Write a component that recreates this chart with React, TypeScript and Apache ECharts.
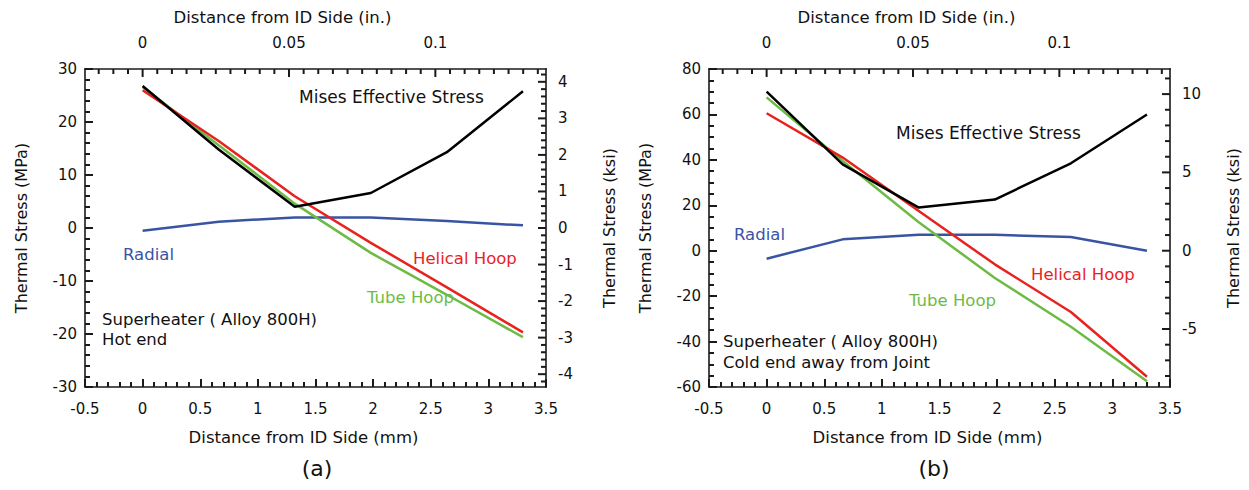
import React, { useEffect, useRef } from "react";
import * as echarts from "echarts";

// ---------- data ----------
const distMm = [0, 0.66, 1.32, 1.98, 2.64, 3.3];

const hotMises = [26.8, 14.8, 4.0, 6.6, 14.3, 25.8];
const hotHelical = [26.0, 16.4, 6.0, -2.8, -11.2, -19.7];
const hotTube = [26.6, 15.6, 4.6, -4.7, -12.6, -20.6];
const hotRadial = [-0.5, 1.2, 2.0, 2.0, 1.3, 0.5];

const coldMises = [70.0, 38.0, 19.0, 22.5, 38.5, 60.0];
const coldHelical = [60.5, 41.0, 17.5, -6.0, -27.0, -55.5];
const coldTube = [67.5, 39.5, 12.5, -12.0, -33.5, -57.5];
const coldRadial = [-3.5, 5.0, 7.0, 7.0, 6.0, 0.0];

const inchMajorTicks = [0, 0.05, 0.1];
const hotKsiTicks = [-4, -3, -2, -1, 0, 1, 2, 3, 4];
const coldKsiTicks = [-5, 0, 5, 10];

const MM_PER_IN = 25.4;
const MPA_PER_KSI = 6.895;

const FONT = "'DejaVu Sans', 'Liberation Sans', Arial, sans-serif";
const RED = "#e8231f";
const GREEN = "#6dbb45";
const BLUE = "#3a54a4";
const AXIS = "#1a1a1a";

function range(a: number, b: number, step: number): number[] {
  const out: number[] = [];
  const n = Math.round((b - a) / step);
  for (let i = 0; i <= n; i++) out.push(+(a + i * step).toFixed(6));
  return out;
}

const pts = (ys: number[]) => distMm.map((x, i) => [x, ys[i]]);

export default function App() {
  const ref = useRef<HTMLDivElement>(null);

  useEffect(() => {
    if (!ref.current) return;
    const chart = echarts.init(ref.current, null, { renderer: "svg" });

    const axisLine = () => ({ show: true, onZero: false, lineStyle: { color: AXIS, width: 1.6 } });
    const tickStyle = () => ({ color: AXIS, width: 2 });

    const bottomAxis = (grid: number) => ({
      type: "value",
      gridIndex: grid,
      position: "bottom",
      min: -0.5,
      max: 3.5,
      interval: 0.5,
      axisLine: axisLine(),
      axisTick: { show: true, inside: true, length: 8, lineStyle: tickStyle() },
      minorTick: { show: true, splitNumber: 5, length: 5, lineStyle: tickStyle() },
      axisLabel: { color: "#111", fontSize: 15, fontFamily: FONT, margin: 14, formatter: (v: number) => String(+v.toFixed(2)) },
      splitLine: { show: false },
    });

    const leftAxis = (grid: number, min: number, max: number, interval: number, minorSplit: number) => ({
      type: "value",
      gridIndex: grid,
      position: "left",
      min,
      max,
      interval,
      axisLine: axisLine(),
      axisTick: { show: true, inside: true, length: 8, lineStyle: tickStyle() },
      minorTick: { show: true, splitNumber: minorSplit, length: 5, lineStyle: tickStyle() },
      axisLabel: { color: "#111", fontSize: 15, fontFamily: FONT, margin: 8 },
      splitLine: { show: false },
      name: "Thermal Stress (MPa)",
      nameLocation: "middle",
      nameGap: 56,
      nameTextStyle: { color: "#111", fontSize: 16, fontFamily: FONT },
    });

    const line = (ys: number[], color: string, idx: number) => ({
      type: "line",
      xAxisIndex: idx,
      yAxisIndex: idx,
      data: pts(ys),
      symbol: "none",
      lineStyle: { color, width: 2.5 },
    });

    chart.setOption({
      animation: false,
      backgroundColor: "#fff",
      grid: [
        { left: 85, width: 461, top: 69, bottom: 103 },
        { left: 709, width: 461, top: 69, bottom: 103 },
      ],
      xAxis: [bottomAxis(0), bottomAxis(1)],
      yAxis: [leftAxis(0, -30, 30, 10, 5), leftAxis(1, -60, 80, 20, 4)],
      series: [
        line(hotRadial, BLUE, 0),
        line(hotTube, GREEN, 0),
        line(hotHelical, RED, 0),
        line(hotMises, "#000", 0),
        line(coldRadial, BLUE, 1),
        line(coldTube, GREEN, 1),
        line(coldHelical, RED, 1),
        line(coldMises, "#000", 1),
      ],
    } as any);

    // ---- secondary axes (inches on top, ksi on right), placed through the chart's own scales ----
    const toX = (g: number, v: number) => chart.convertToPixel({ xAxisIndex: g } as any, v) as number;
    const toY = (g: number, v: number) => chart.convertToPixel({ yAxisIndex: g } as any, v) as number;

    const txt = (x: number, y: number, text: string, color = "#111", size = 16.5, align = "left", rotation = 0) => ({
      type: "text",
      x,
      y,
      rotation,
      style: { text, fill: color, fontSize: size, fontFamily: FONT, align, verticalAlign: "middle" },
    });
    const rectTick = (x: number, y: number, w: number, h: number) => ({
      type: "rect",
      shape: { x, y, width: w, height: h },
      style: { fill: AXIS },
      z: 10,
    });

    const secondary = (g: number, yMin: number, yMax: number, ksiMajor: number[], ksiMinor: number) => {
      const els: any[] = [];
      const xL = toX(g, -0.5);
      const xR = toX(g, 3.5);
      const yT = toY(g, yMax);
      const yB = toY(g, yMin);
      els.push(rectTick(xL - 0.8, yT - 0.8, xR - xL + 1.6, 1.6));
      els.push(rectTick(xR - 0.8, yT - 0.8, 1.6, yB - yT + 1.6));
      // top inch ticks
      range(-0.015, 0.135, 0.005).forEach((inch) => {
        const mm = inch * MM_PER_IN;
        if (mm < -0.5 || mm > 3.5) return;
        const major = inchMajorTicks.some((m) => Math.abs(m - inch) < 1e-6);
        const x = toX(g, mm);
        els.push(rectTick(x - 1, yT, 2, major ? 8 : 5));
      });
      inchMajorTicks.forEach((inch) => {
        els.push(txt(toX(g, inch * MM_PER_IN), yT - 26, String(inch), "#111", 15, "center"));
      });
      // right ksi ticks
      const lo = Math.ceil(yMin / MPA_PER_KSI / ksiMinor - 1e-9) * ksiMinor;
      const hi = Math.floor(yMax / MPA_PER_KSI / ksiMinor + 1e-9) * ksiMinor;
      range(lo, hi, ksiMinor).forEach((k) => {
        const major = ksiMajor.some((m) => Math.abs(m - k) < 1e-6);
        const y = toY(g, k * MPA_PER_KSI);
        const len = major ? 8 : 5;
        els.push(rectTick(xR - len, y - 1, len, 2));
      });
      ksiMajor.forEach((k) => {
        els.push(txt(xR + 12, toY(g, k * MPA_PER_KSI), String(k), "#111", 15, "left"));
      });
      els.push(txt(xR + 63, (yT + yB) / 2, "Thermal Stress (ksi)", "#111", 16, "center", Math.PI / 2));
      els.push(txt((xL + xR) / 2 - 33, 17, "Distance from ID Side (in.)", "#111", 16.5, "center"));
      els.push(txt((xL + xR) / 2 - 12, 437, "Distance from ID Side (mm)", "#111", 16.5, "center"));
      return els;
    };

    chart.setOption({
      graphic: [
        ...secondary(0, -30, 30, hotKsiTicks, 0.2),
        ...secondary(1, -60, 80, coldKsiTicks, 1),
        txt(317, 468, "(a)", "#111", 22, "center"),
        txt(934, 468, "(b)", "#111", 22, "center"),
        txt(299, 97, "Mises Effective Stress", "#111", 17),
        txt(123, 254, "Radial", BLUE),
        txt(413, 258, "Helical Hoop", RED),
        txt(367, 297, "Tube Hoop", GREEN),
        txt(102, 319, "Superheater ( Alloy 800H)"),
        txt(102, 339, "Hot end"),
        txt(896, 133, "Mises Effective Stress", "#111", 17),
        txt(734, 234, "Radial", BLUE),
        txt(1031, 274, "Helical Hoop", RED),
        txt(909, 300, "Tube Hoop", GREEN),
        txt(723, 341, "Superheater ( Alloy 800H)"),
        txt(723, 362, "Cold end away from Joint"),
      ],
    } as any);

    return () => chart.dispose();
  }, []);

  return <div ref={ref} style={{ width: 1249, height: 490, position: "absolute", left: 0, top: 0 }} />;
}
